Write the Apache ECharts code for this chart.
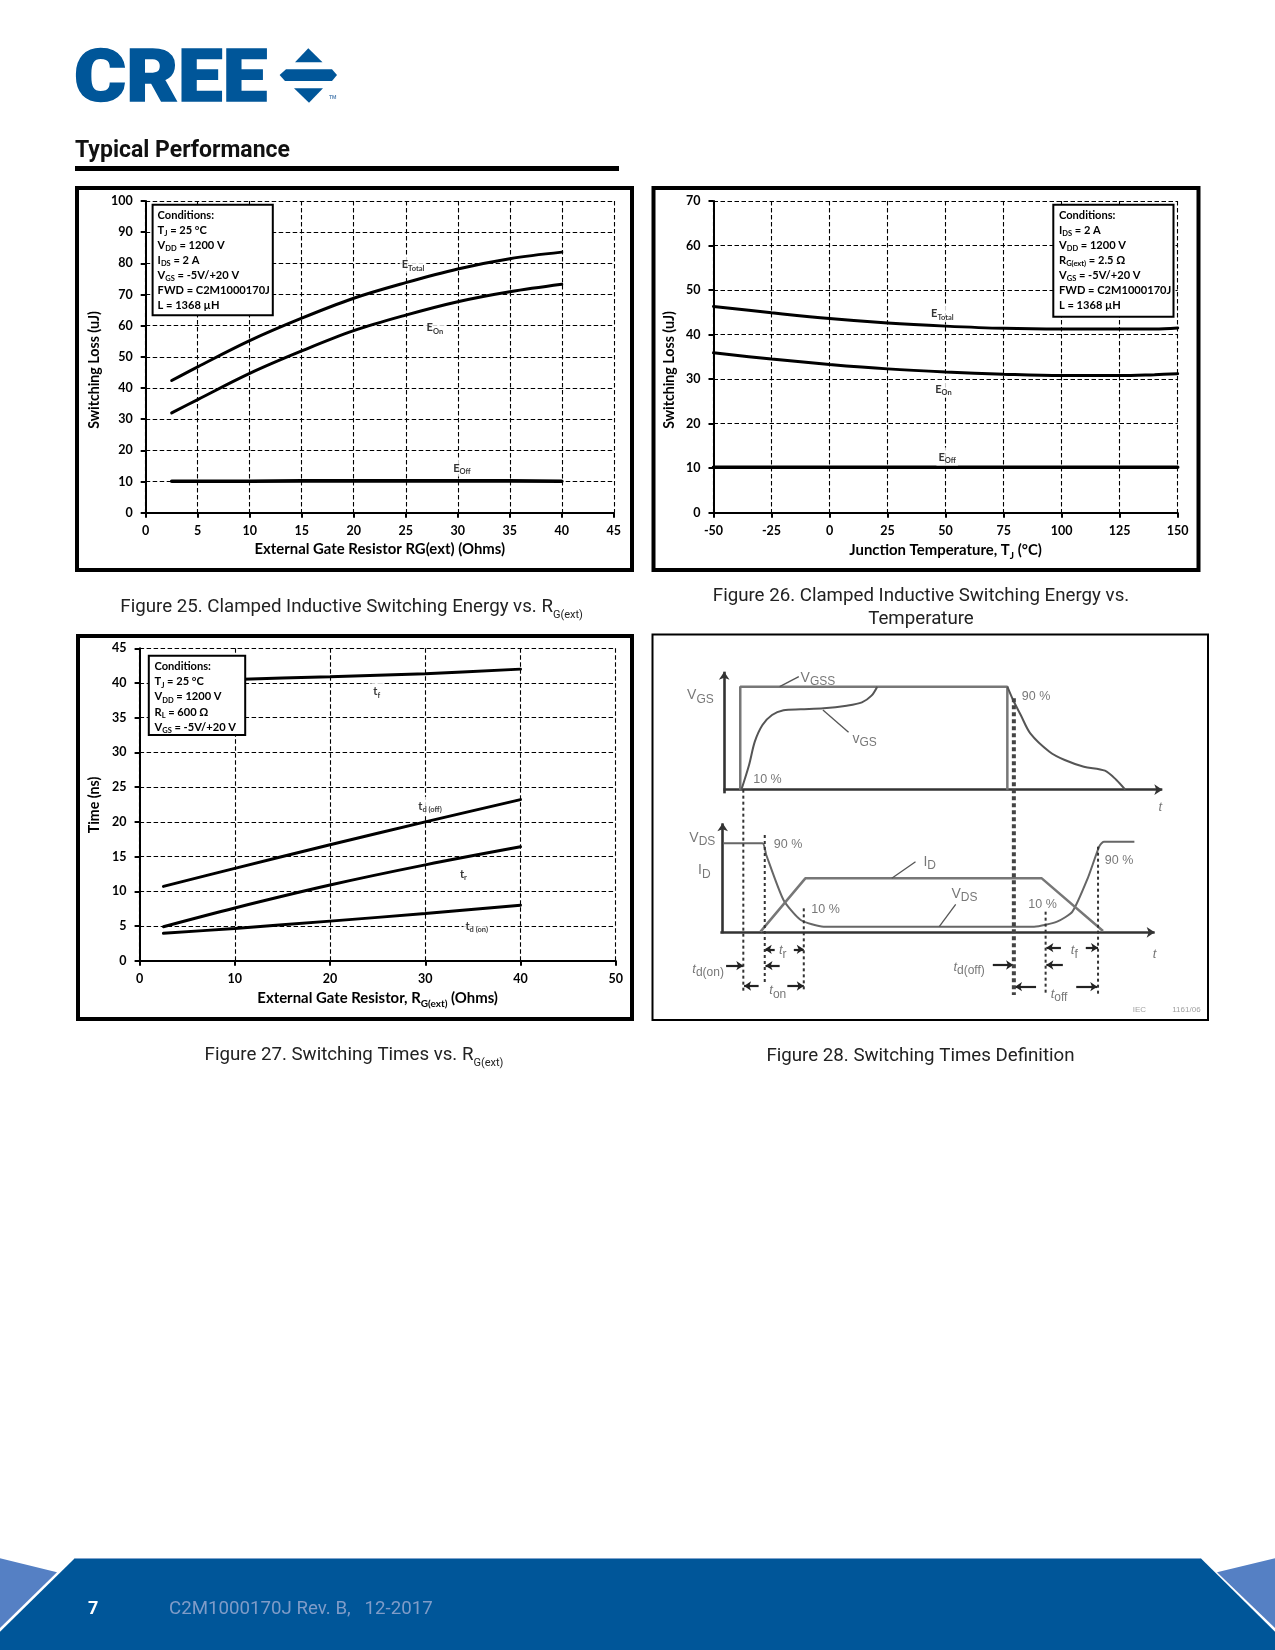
<!DOCTYPE html>
<html><head><meta charset="utf-8">
<style>html,body{margin:0;padding:0;background:#fff}#c{width:1275px;height:1650px}</style>
<script src="https://cdn.jsdelivr.net/npm/echarts@6/dist/echarts.min.js"></script>
</head><body><div id="c"></div>
<script>
// ---------- Figure 25 ----------
var fig25R      = [2.5, 5, 10, 15, 20, 25, 30, 35, 40];
var fig25ETotal = [42.4, 46.8, 55.2, 62.4, 68.8, 73.8, 78.2, 81.5, 83.6];
var fig25EOn    = [32.0, 36.3, 44.7, 51.9, 58.4, 63.4, 67.7, 70.9, 73.3];
var fig25EOff   = [10.1, 10.1, 10.1, 10.2, 10.2, 10.2, 10.2, 10.2, 10.1];
// ---------- Figure 26 ----------
var fig26T      = [-50, -25, 0, 25, 50, 75, 100, 125, 140, 150];
var fig26ETotal = [46.3, 44.9, 43.6, 42.6, 41.9, 41.4, 41.25, 41.25, 41.25, 41.5];
var fig26EOn    = [35.9, 34.5, 33.3, 32.3, 31.6, 31.1, 30.8, 30.8, 31.0, 31.2];
var fig26EOff   = [10.2, 10.2, 10.2, 10.2, 10.2, 10.2, 10.2, 10.2, 10.2, 10.2];
// ---------- Figure 27 ----------
var fig27R    = [2.5, 10, 20, 30, 40];
var fig27Tf   = [40.1, 40.5, 40.9, 41.35, 42.0];
var fig27TdOff= [10.7, 13.3, 16.7, 20.0, 23.2];
var fig27Tr   = [4.9, 7.6, 10.9, 13.8, 16.4];
var fig27TdOn = [3.95, 4.65, 5.7, 6.8, 8.0];
// ---------- Figure 28 (schematic, in arbitrary time / level units) ----------
var schVgss   = [[262,494],[262,185],[960,185],[960,494]];
var schVgsUp  = [[265,494],[285,420],[300,350],[320,300],[345,270],[375,256],[420,253],[480,250],[540,242],[580,232],[605,212],[620,185]];
var schVgsDn  = [[960,185],[975,225],[995,270],[1020,325],[1070,380],[1110,405],[1160,425],[1215,437],[1245,465],[1268,494]];
var schVds    = [[218,655],[320,655],[330,690],[375,825],[420,885],[480,905],[1030,905],[1090,890],[1130,860],[1170,760],[1200,665],[1212,650],[1292,650]];
var schId     = [[315,920],[432,760],[1050,760],[1210,918]];
var schLeaders= [[[365,185],[415,155]],[[478,255],[545,322]],[[658,760],[720,710]],[[782,905],[825,838]]];
var schDotted = [[[270,494],[270,1100]],[[326,630],[326,1075]],[[428,850],[428,1095]],[[1060,860],[1060,1105]],[[1197,665],[1197,1110]]];
var schDottedMain = [[977,220],[977,1110]];
var schAxes   = [[[220,505],[220,140]],[[218,494],[1365,494]],[[216,925],[216,595]],[[210,922],[1345,922]]];
var schArrows = [[[352,973],[326,973]],[[402,973],[428,973]],[[225,1022],[270,1022]],[[365,1022],[328,1022]],[[310,1083],[272,1083]],[[385,1083],[428,1083]],
                 [[922,1020],[975,1020]],[[1105,1020],[1062,1020]],[[1035,1085],[980,1085]],[[1140,1085],[1195,1085]],[[1100,968],[1062,968]],[[1165,968],[1197,968]]];
var schLabels = [
 [158,205,'{a|V}{s|GS}'],[465,152,'{a|V}{s|GSS}'],[587,336,'{a|v}{s|GS}'],[1035,215,'{n|90 %}'],[333,465,'{n|10 %}'],[1360,540,'{i|t}'],
 [163,632,'{a|V}{s|DS}'],[168,730,'{a|I}{s|D}'],[387,660,'{n|90 %}'],[485,855,'{n|10 %}'],[757,705,'{a|I}{s|D}'],[848,800,'{a|V}{s|DS}'],
 [1052,838,'{n|10 %}'],[1252,708,'{n|90 %}'],[1135,970,'{i|t}{s|f}'],[373,970,'{i|t}{s|r}'],[1345,982,'{i|t}'],[178,1025,'{i|t}{s|d(on)}'],
 [360,1090,'{i|t}{s|on}'],[860,1020,'{i|t}{s|d(off)}'],[1095,1100,'{i|t}{s|off}'],[1305,1155,'{x|IEC}'],[1428,1155,'{x|1161/06}']];

var LABEL_FONT = 'Lato';
var TEXT = '#000';
var subRich = {
  a:{fontFamily:LABEL_FONT,fontWeight:'bold',fontSize:11.1,color:TEXT,lineHeight:14,verticalAlign:'bottom'},
  s:{fontFamily:LABEL_FONT,fontWeight:'bold',fontSize:7.5,color:TEXT,lineHeight:14,verticalAlign:'bottom',padding:[0,0,-2,0]}
};
var nameRich = {
  a:{fontFamily:LABEL_FONT,fontWeight:'bold',fontSize:14.9,color:TEXT,lineHeight:16,verticalAlign:'bottom'},
  s:{fontFamily:LABEL_FONT,fontWeight:'bold',fontSize:10,color:TEXT,lineHeight:16,verticalAlign:'bottom',padding:[0,0,-3,0]}
};

var grids = [
 {left:145.7,top:201,width:468.1,height:311.7},
 {left:713.5,top:201,width:464.2,height:311.7},
 {left:139.6,top:648.3,width:476.1,height:312.4},
 {left:640,top:625,width:600,height:460}
];
function xA(i,min,max,iv,name){return {gridIndex:i,type:'value',min:min,max:max,interval:iv,name:name,nameLocation:'middle',nameGap:29,
  nameTextStyle:{rich:nameRich,fontFamily:LABEL_FONT,fontWeight:'bold',fontSize:14.9,color:TEXT},
  axisLine:{onZero:false,lineStyle:{color:'#000',width:2}},axisTick:{show:true,length:5,lineStyle:{color:'#000',width:2}},
  axisLabel:{show:true,margin:12,showMinLabel:true,showMaxLabel:true,hideOverlap:false,color:TEXT,fontFamily:LABEL_FONT,fontWeight:'bold',fontSize:12.5},
  splitLine:{show:true,lineStyle:{color:'#000',width:1.1,type:[4.5,2.5]}}};}
function yA(i,min,max,iv){var a=xA(i,min,max,iv);delete a.name;delete a.nameLocation;delete a.nameGap;delete a.nameTextStyle;a.axisLabel.margin=13;return a;}
var xAxes=[xA(0,0,45,5,'External Gate Resistor RG(ext) (Ohms)'),xA(1,-50,150,25,'{a|Junction Temperature, T}{s|J}{a| (°C)}'),xA(2,0,50,10,'{a|External Gate Resistor, R}{s|G(ext)}{a| (Ohms)}'),
  {gridIndex:3,type:'value',min:0,max:1568,show:false}];
var yAxes=[yA(0,0,100,10),yA(1,0,70,10),yA(2,0,45,5),{gridIndex:3,type:'value',min:0,max:1380,inverse:true,show:false}];

function zipXY(x,y){return x.map(function(v,i){return [v,y[i]];});}
function curve(g,name,x,y,smooth,w){return {type:'line',name:name,xAxisIndex:g,yAxisIndex:g,data:zipXY(x,y),smooth:smooth===undefined?0.35:smooth,showSymbol:false,silent:true,
  lineStyle:{color:'#000',width:w||3,cap:'round'},z:3};}
function annot(g,items){return {type:'scatter',xAxisIndex:g,yAxisIndex:g,symbolSize:1,itemStyle:{color:'rgba(0,0,0,0)'},silent:true,z:4,
  data:items.map(function(d){return {value:[d[0],d[1]],label:{show:true,position:'inside',formatter:d[2],rich:subRich,backgroundColor:'#fff',padding:[1,2,3,2]}};})};}
function sch(name,pts,color,width,extra){var s={type:'line',name:name,xAxisIndex:3,yAxisIndex:3,data:pts,showSymbol:false,silent:true,clip:false,smooth:false,
  lineStyle:{color:color,width:width}};for(var k in (extra||{}))s[k]=extra[k];return s;}

var series=[
 curve(0,'ETotal',fig25R,fig25ETotal),curve(0,'EOn',fig25R,fig25EOn),curve(0,'EOff',fig25R,fig25EOff,false,3.6),
 annot(0,[[25.7,79.7,'{a|E}{s|Total}'],[27.8,59.5,'{a|E}{s|On}'],[30.4,14.5,'{a|E}{s|Off}']]),
 curve(1,'ETotal',fig26T,fig26ETotal),curve(1,'EOn',fig26T,fig26EOn),curve(1,'EOff',fig26T,fig26EOff,false,3.6),
 annot(1,[[48.6,44.8,'{a|E}{s|Total}'],[49.1,27.8,'{a|E}{s|On}'],[50.7,12.6,'{a|E}{s|Off}']]),
 curve(2,'tf',fig27R,fig27Tf),curve(2,'td(off)',fig27R,fig27TdOff),curve(2,'tr',fig27R,fig27Tr),curve(2,'td(on)',fig27R,fig27TdOn),
 annot(2,[[24.9,38.8,'{a|t}{s|f}'],[30.5,22.3,'{a|t}{s|d (off)}'],[34,12.5,'{a|t}{s|r}'],[35.4,5.05,'{a|t}{s|d (on)}']]),
 sch('VGSS',schVgss,'#777',2.5),
 sch('vGS rise',schVgsUp,'#555',2,{smooth:0.3}),
 sch('vGS fall',schVgsDn,'#555',2,{smooth:0.3}),
 sch('vDS',schVds,'#666',2,{smooth:0.2}),
 sch('iD',schId,'#777',2.5)
];
schLeaders.forEach(function(p){series.push(sch('leader',p,'#555',1.3));});
schDotted.forEach(function(p){series.push(sch('dotted',p,'#333',2,{lineStyle:{color:'#333',width:2,type:[3,3]}}));});
series.push(sch('dotted main',schDottedMain,'#444',4,{lineStyle:{color:'#444',width:4,type:[4,3]}}));
schAxes.forEach(function(p){series.push({type:'lines',coordinateSystem:'cartesian2d',xAxisIndex:3,yAxisIndex:3,silent:true,clip:false,symbol:['none','arrow'],symbolSize:8,
  lineStyle:{color:'#333',width:2.6,curveness:0,opacity:1},data:[{coords:p}]});});
series.push({type:'lines',coordinateSystem:'cartesian2d',xAxisIndex:3,yAxisIndex:3,silent:true,clip:false,symbol:['none','arrow'],symbolSize:7,
  lineStyle:{color:'#222',width:2.2,curveness:0,opacity:1},data:schArrows.map(function(p){return {coords:p};})});
var schRich={
  a:{fontFamily:'Liberation Sans',fontSize:14,color:'#555',lineHeight:18,verticalAlign:'bottom'},
  s:{fontFamily:'Liberation Sans',fontSize:12,color:'#555',lineHeight:18,verticalAlign:'bottom',padding:[0,0,-3,0]},
  n:{fontFamily:'Liberation Sans',fontSize:12.5,color:'#555'},
  i:{fontFamily:'Liberation Sans',fontStyle:'italic',fontSize:13,color:'#555',lineHeight:18,verticalAlign:'bottom'},
  x:{fontFamily:'Liberation Sans',fontSize:8,color:'#888'}
};
series.push({type:'scatter',xAxisIndex:3,yAxisIndex:3,symbolSize:1,silent:true,clip:false,z:5,itemStyle:{color:'rgba(0,0,0,0)'},
  data:schLabels.map(function(d){return {value:[d[0],d[1]],label:{show:true,position:'inside',formatter:d[2],rich:schRich}};})});

// ---------- page furniture ----------
var g=[];
function rect(x,y,w,h,fill,stroke,lw,z){g.push({type:'rect',shape:{x:x,y:y,width:w,height:h},style:{fill:fill||'none',stroke:stroke||null,lineWidth:lw||0},z:z||0,silent:true});}
function poly(pts,fill,z,stroke,lw){g.push({type:'polygon',shape:{points:pts},style:{fill:fill,stroke:stroke||null,lineWidth:lw||0},z:z||0,silent:true});}
function txt(x,y,t,font,color,align,rich,z,rot){var s={text:t,font:font,fill:color,textAlign:align||'left',textVerticalAlign:'middle',verticalAlign:'middle',align:align||'left'};if(rich)s.rich=rich;
  var el={type:'text',x:x,y:y,style:s,z:z||20,silent:true};if(rot)el.rotation=rot;g.push(el);}

var BLUE='#005699';
// logo
g.push({type:'text',x:74,y:83,scaleX:1.09,scaleY:1,style:{text:'CREE',font:'900 73px Roboto',fill:BLUE,stroke:BLUE,lineWidth:1.5,textVerticalAlign:'middle',verticalAlign:'middle',textAlign:'left',align:'left'},silent:true});
poly([[308.3,48.3],[322.5,62.3],[295,62.3]],BLUE);
poly([[286,69.3],[332,69.3],[337,75],[332,81],[285,81],[279.6,75]],BLUE);
poly([[294,88.3],[323,88.3],[309,102.7]],BLUE);
txt(329,97.7,'TM','bold 5px Roboto','#5f8bb8');
// heading
txt(75,151.5,'Typical Performance','bold 23px Roboto','#111');
rect(75,166,544,5,'#000');
// frames
rect(77,188,555,382,'none','#000',4,1);
rect(653.5,188,545,382,'none','#000',4,1);
rect(78,636,554,383,'none','#000',4,1);
rect(652.5,634.5,555.5,385.5,'none','#000',2,1);
// captions
var CAP='18.7px Roboto';
var capRich={m:{fontFamily:'Roboto',fontSize:18.7,color:'#222',lineHeight:22,verticalAlign:'bottom'},
             u:{fontFamily:'Roboto',fontSize:11,color:'#222',lineHeight:22,verticalAlign:'bottom',padding:[0,0,-4,0]}};
txt(351.6,606,'{m|Figure 25. Clamped Inductive Switching Energy vs. R}{u|G(ext)}',CAP,'#222','center',capRich);
txt(921,596,'Figure 26. Clamped Inductive Switching Energy vs.',CAP,'#222','center');
txt(921,619,'Temperature',CAP,'#222','center');
txt(354,1054,'{m|Figure 27. Switching Times vs. R}{u|G(ext)}',CAP,'#222','center',capRich);
txt(920.5,1056,'Figure 28. Switching Times Definition',CAP,'#222','center');
// rotated y axis titles
var YN='bold 14.2px '+LABEL_FONT;
txt(94.4,370,'Switching Loss (uJ)',YN,'#000','center',null,20,Math.PI/2);
txt(669.9,370,'Switching Loss (uJ)',YN,'#000','center',null,20,Math.PI/2);
txt(94.4,805,'Time (ns)',YN,'#000','center',null,20,Math.PI/2);
// condition boxes
function condBox(x,y,w,h,tx,ty,lines){rect(x,y,w,h,'#fff','#000',2,10);
  lines.forEach(function(l,i){txt(tx,ty+i*15.1,l,'bold 11.1px '+LABEL_FONT,'#000','left',subRich,21);});}
condBox(152.6,204.7,120.2,110.6,157.6,213.5,['{a|Conditions:}','{a|T}{s|J}{a| = 25 °C}','{a|V}{s|DD}{a| = 1200 V}','{a|I}{s|DS}{a| = 2 A}','{a|V}{s|GS}{a| = -5V/+20 V}','{a|FWD = C2M1000170J}','{a|L = 1368 µH}']);
condBox(1053.3,204.7,120.2,112,1059,213.5,['{a|Conditions:}','{a|I}{s|DS}{a| = 2 A}','{a|V}{s|DD}{a| = 1200 V}','{a|R}{s|G(ext)}{a| = 2.5 Ω}','{a|V}{s|GS}{a| = -5V/+20 V}','{a|FWD = C2M1000170J}','{a|L = 1368 µH}']);
condBox(148.8,655.7,96.4,79.3,154.5,665.2,['{a|Conditions:}','{a|T}{s|J}{a| = 25 °C}','{a|V}{s|DD}{a| = 1200 V}','{a|R}{s|L}{a| = 600 Ω}','{a|V}{s|GS}{a| = -5V/+20 V}']);
// footer
poly([[0,1558.3],[57,1572.3],[0,1628]],'#5580C4');
poly([[1275,1558.3],[1217,1572.3],[1275,1628]],'#5580C4');
poly([[74.8,1558.3],[1200.8,1558.3],[1275,1631.7],[1275,1650],[0,1650],[0,1631.7]],BLUE,1);
rect(74.8,1558,1126,1,'#7fa3cc',null,0,2);
txt(88,1609,'7','bold 18px Roboto','#fff');
txt(169,1609.5,'C2M1000170J Rev. B,   12-2017','18.7px Roboto','#7f9cc8');

var chart=echarts.init(document.getElementById('c'),null,{renderer:'canvas',width:1275,height:1650});
chart.setOption({animation:false,backgroundColor:'#fff',legend:{show:false},tooltip:{show:false},grid:grids,xAxis:xAxes,yAxis:yAxes,series:series,graphic:{elements:g}});
</script></body></html>
